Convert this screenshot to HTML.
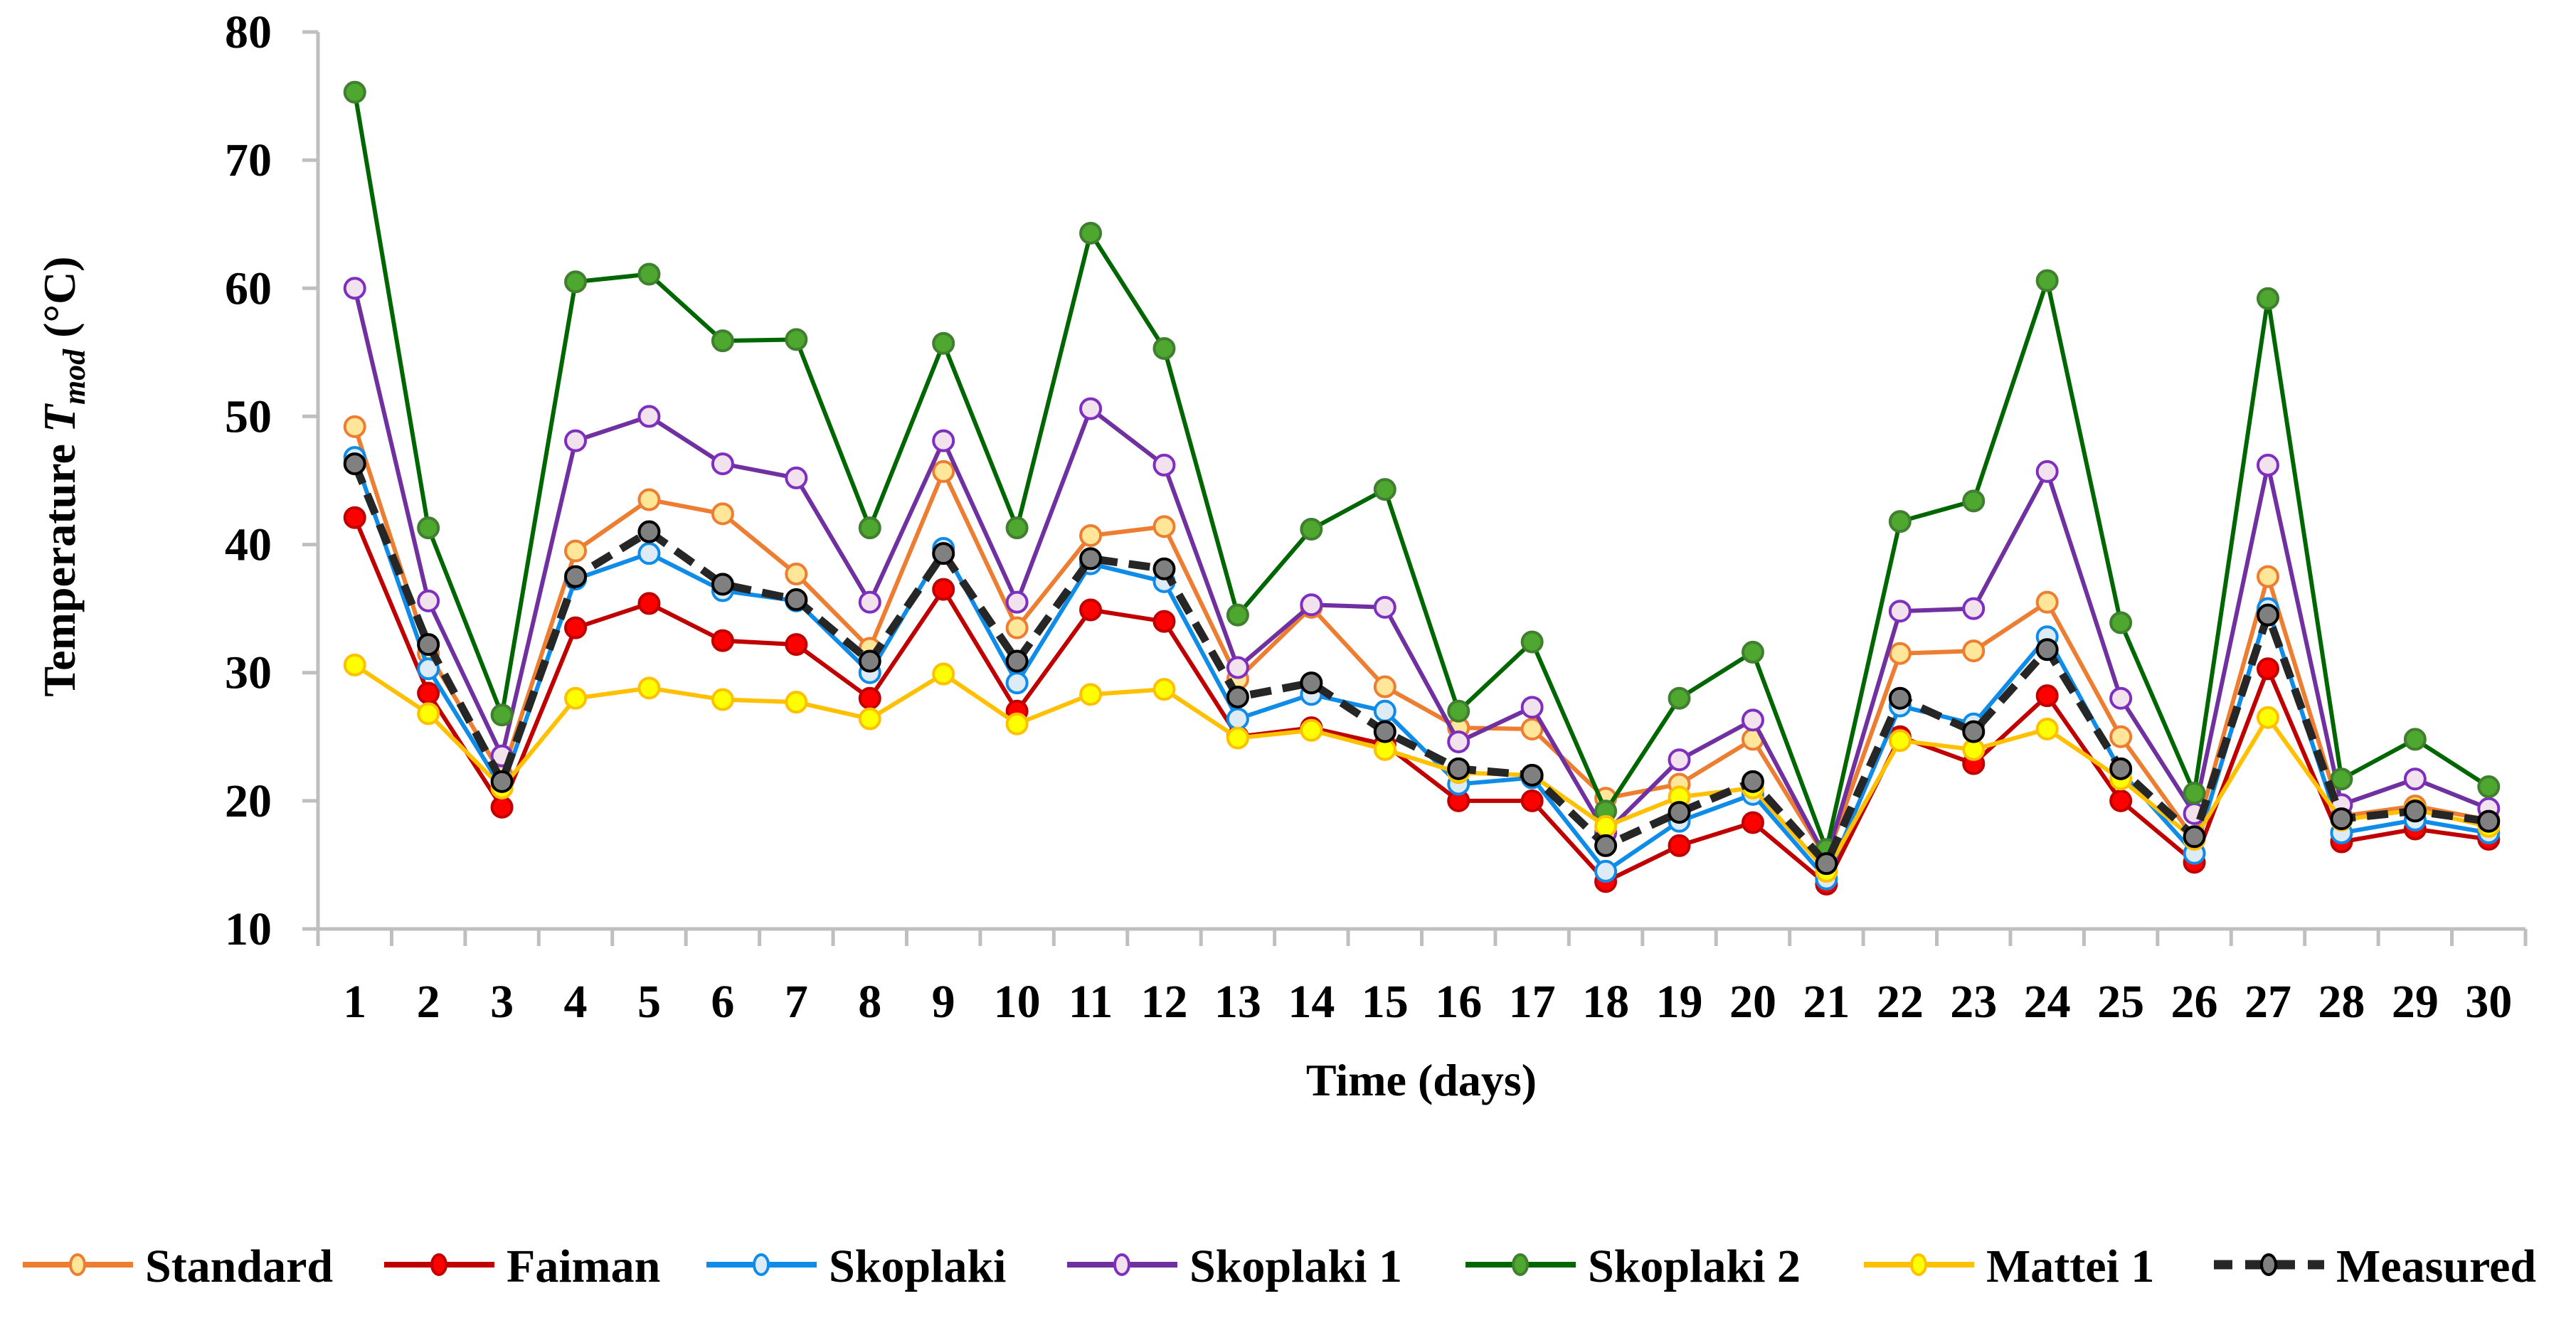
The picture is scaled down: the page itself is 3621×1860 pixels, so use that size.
<!DOCTYPE html>
<html><head><meta charset="utf-8"><style>
html,body{margin:0;padding:0;background:#fff;}
svg{display:block;font-family:"Liberation Serif",serif;font-weight:bold;}
</style></head><body>
<svg id="chart" width="3621" height="1860" viewBox="0 0 3621 1860" xmlns="http://www.w3.org/2000/svg">
<g id="axes"></g>
<g id="series"></g>
<text transform="translate(105,670) rotate(-90)" text-anchor="middle" font-size="64">Temperature <tspan font-style="italic">T</tspan><tspan font-style="italic" font-size="44" dy="14">mod</tspan><tspan dy="-14"> (°C)</tspan></text>
<text x="1998" y="1540" text-anchor="middle" font-size="64">Time (days)</text>
<g id="legend"></g>
</svg>
<script>
const days = [1,2,3,4,5,6,7,8,9,10,11,12,13,14,15,16,17,18,19,20,21,22,23,24,25,26,27,28,29,30];
const yTicks = [10,20,30,40,50,60,70,80];
const standard = [49.2,31.5,22,39.5,43.5,42.4,37.7,31.9,45.7,33.5,40.7,41.4,29.5,35.1,28.9,25.7,25.6,20.2,21.3,24.8,15.5,31.5,31.7,35.5,25.0,17.0,37.5,18.8,19.6,18.5];
const faiman = [42.1,28.4,19.5,33.5,35.4,32.5,32.2,28.0,36.5,27.0,34.9,34.0,25.0,25.7,24.4,20.0,20.0,13.7,16.5,18.3,13.5,25.0,22.9,28.2,20.0,15.2,30.3,16.8,17.8,17.0];
const skoplaki = [46.8,30.3,21,37.3,39.3,36.4,35.6,30.0,39.7,29.2,38.5,37.1,26.4,28.3,27.0,21.3,21.8,14.5,18.4,20.5,13.9,27.4,26.0,32.8,22.3,15.9,35.0,17.5,18.5,17.5];
const skoplaki1 = [60.0,35.6,23.5,48.1,50.0,46.3,45.2,35.5,48.1,35.5,50.6,46.2,30.4,35.3,35.1,24.6,27.3,17.5,23.2,26.3,15.5,34.8,35.0,45.7,28.0,19.0,46.2,19.7,21.7,19.4];
const skoplaki2 = [75.3,41.3,26.7,60.5,61.1,55.9,56.0,41.3,55.7,41.3,64.3,55.3,34.5,41.2,44.3,27.0,32.4,19.2,28.0,31.6,16.2,41.8,43.4,60.6,33.9,20.6,59.2,21.7,24.8,21.1];
const mattei1 = [30.6,26.8,21,28.0,28.8,27.9,27.7,26.4,29.9,26.0,28.3,28.7,24.9,25.5,24.0,22.2,22.0,18.0,20.3,21.0,14.5,24.7,24.0,25.6,21.7,17.0,26.5,18.5,19.3,18.0];
const measured = [46.3,32.2,21.5,37.5,41.0,36.9,35.7,30.9,39.3,30.9,38.9,38.1,28.1,29.2,25.4,22.5,22.0,16.5,19.1,21.5,15.1,28.0,25.4,31.8,22.5,17.2,34.5,18.6,19.2,18.4];
const seriesNames = ["Standard","Faiman","Skoplaki","Skoplaki 1","Skoplaki 2","Mattei 1","Measured"];

const NS="http://www.w3.org/2000/svg";
const X0=447,X1=3550,Y0=1306,Y1=45,YMIN=10,YMAX=80;
const step=(X1-X0)/days.length;
function xs(i){return X0+step*(i+0.5);}
function ys(v){return Y0-(v-YMIN)/(YMAX-YMIN)*(Y0-Y1);}
function mk(tag,attrs,parent){const e=document.createElementNS(NS,tag);for(const k in attrs)e.setAttribute(k,attrs[k]);parent.appendChild(e);return e;}

const axes=document.getElementById('axes');
let e;
e=mk('line',{x1:X0,y1:Y1,x2:X0,y2:Y0+2,stroke:'#bfbfbf','stroke-width':5},axes);


e=mk('line',{x1:X0-22,y1:Y0,x2:X1,y2:Y0,stroke:'#bfbfbf','stroke-width':5},axes);


yTicks.forEach(t=>{
  const y=ys(t);
  let tk=mk('line',{x1:X0-22,y1:y,x2:X0,y2:y,stroke:'#bfbfbf','stroke-width':5},axes);
  
  
  let lb=mk('text',{x:382,y:y+22,'text-anchor':'end','font-size':66},axes);
  lb.textContent=t;
  
  
});
for(let i=0;i<=days.length;i++){
  const x=X0+step*i;
  let tk=mk('line',{x1:x,y1:Y0,x2:x,y2:Y0+24,stroke:'#bfbfbf','stroke-width':5},axes);
  
  
}
days.forEach((d,i)=>{
  let lb=mk('text',{x:xs(i),y:1430,'text-anchor':'middle','font-size':66},axes);
  lb.textContent=d;
  
  
});

const styles=[
 {data:standard,line:'#ED7D31',fill:'#FFE699',ms:'#ED7D31',dash:null,w:6},
 {data:faiman,line:'#C00000',fill:'#FF0000',ms:'#C00000',dash:null,w:6},
 {data:skoplaki,line:'#0F8BE8',fill:'#DDEBF7',ms:'#0F8BE8',dash:null,w:6},
 {data:skoplaki1,line:'#7030A0',fill:'#F2E2EE',ms:'#7F2FBF',dash:null,w:6},
 {data:skoplaki2,line:'#006600',fill:'#4EA72E',ms:'#3F7F2F',dash:null,w:6},
 {data:mattei1,line:'#FFC000',fill:'#FFFF00',ms:'#FFC000',dash:null,w:6},
 {data:measured,line:'#262626',fill:'#808080',ms:'#000000',dash:'30 16',w:11}
];
const sg=document.getElementById('series');
styles.forEach((s,k)=>{
  const g=mk('g',{},sg);
  
  
  const pts=s.data.map((v,i)=>xs(i)+','+ys(v)).join(' ');
  const pl=mk('polyline',{points:pts,fill:'none',stroke:s.line,'stroke-width':s.w,'stroke-linejoin':'round'},g);
  if(s.dash)pl.setAttribute('stroke-dasharray',s.dash);
  
  
  s.data.forEach((v,i)=>{
    const c=mk('circle',{cx:xs(i),cy:ys(v),r:14,fill:s.fill,stroke:s.ms,'stroke-width':4},g);
    
    
  });
});

const lg=document.getElementById('legend');
const lx=[32,540,993,1500,2060,2620,3112];
styles.forEach((s,k)=>{
  const g=mk('g',{},lg);
  
  
  const ly=1778;
  const l=mk('line',{x1:lx[k],y1:ly,x2:lx[k]+155,y2:ly,stroke:s.line,'stroke-width':s.w+2},g);
  if(s.dash)l.setAttribute('stroke-dasharray','26 18');
  mk('ellipse',{cx:lx[k]+77,cy:ly,rx:10,ry:14,fill:s.fill,stroke:s.ms,'stroke-width':4},g);
  const t=mk('text',{x:lx[k]+172,y:ly+24,'font-size':66},g);
  t.textContent=seriesNames[k];
});
</script>
</body></html>
